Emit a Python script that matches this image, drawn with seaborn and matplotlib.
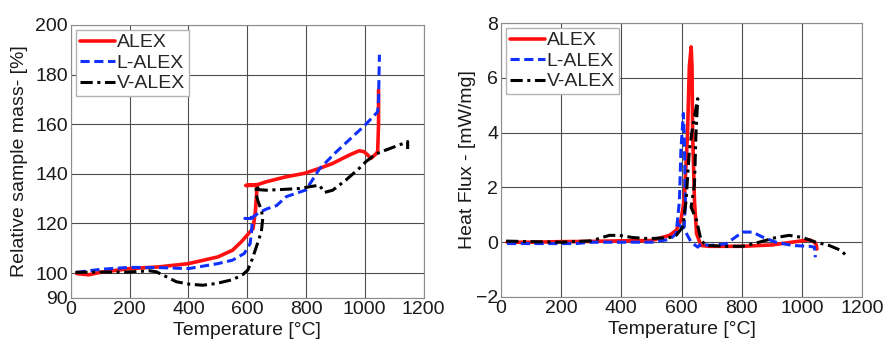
import numpy as np
import pandas as pd
import seaborn as sns
import matplotlib
matplotlib.use('Agg')
from matplotlib import pyplot as plt

# TG: relative sample mass [%] vs temperature [C]
alex_tg_t = [20, 60, 100, 200, 300, 400, 500, 550, 580, 600, 620, 628, 632, 633, 595, 636, 665, 732, 795, 846,
             891, 948, 981, 998, 1010, 1021, 1038, 1044, 1047, 1047]
alex_tg_m = [99.8, 99.3, 100.3, 101.8, 102.5, 103.8, 106.5, 109.2, 112.6, 115.3, 118, 125, 132, 135.4, 135.3, 135.7, 136.8,
             138.8, 140.2, 142.2, 144.2, 147.6, 149.3, 148.9, 147.6, 146.2, 148, 149, 160, 173.8]
lalex_tg_t = [20, 100, 200, 300, 400, 500, 550, 590, 610, 615, 618, 592, 618, 640, 665, 700, 733, 800, 846, 900,
              950, 1000, 1044, 1047, 1050]
lalex_tg_m = [100.3, 101.5, 102.3, 102.2, 101.8, 103.8, 105.2, 107.9, 111.9, 117, 122, 122, 122.5, 124.3, 125.8, 127.2,
              130.8, 133.5, 142, 148.5, 154, 159.5, 165, 170, 188]
valex_tg_t = [15, 98, 189, 268, 291, 325, 359, 404, 449, 495, 552, 586, 602, 614, 631, 648, 653, 648, 637, 631, 630,
              640, 665, 721, 778, 823, 846, 863, 891, 936, 981, 1004, 1038, 1072, 1117, 1146, 1146]
valex_tg_m = [100.3, 100.4, 100.4, 100.9, 100.5, 98.5, 96.5, 95.5, 95.1, 95.8, 97.4, 99.5, 101.2, 104.6, 110.5, 116.6,
              122, 125.5, 128.9, 131.5, 135.4, 133.6, 133.4, 133.7, 134.1, 135, 135.4, 132.5, 133.4, 137.5, 142.2, 144.9,
              148, 149.6, 151.6, 153, 150]

# DSC: heat flux [mW/mg] vs temperature [C]
alex_hf_t = [20, 100, 200, 300, 400, 500, 560, 582, 598, 609, 620, 626, 632, 635, 637, 643, 650, 665, 693, 800,
             900, 1000, 1025, 1042, 1048, 1050]
alex_hf_q = [0.0, 0.0, 0.02, 0.03, 0.05, 0.06, 0.25, 0.43, 0.8, 1.53, 3.96, 6.4, 7.13, 6.4, 3.96, 1.53, 0.31, -0.12,
             -0.15, -0.15, -0.1, 0.05, 0.09, 0.0, -0.1, -0.25]
lalex_hf_t = [20, 150, 250, 300, 400, 500, 560, 582, 593, 598, 606, 609, 613, 609, 587, 610, 632, 654, 665, 693,
              748, 803, 836, 869, 914, 969, 1025, 1042, 1045]
lalex_hf_q = [-0.05, -0.05, -0.05, 0.0, 0.0, 0.0, 0.1, 0.3, 1.5, 3.35, 4.7, 3.96, 1.5, 0.55, 0.68, 0.45, 0.0, -0.18,
              -0.06, -0.12, -0.06, 0.37, 0.37, 0.19, 0.0, -0.12, -0.15, -0.18, -0.55]
valex_hf_t = [17, 100, 200, 300, 360, 393, 438, 493, 560, 582, 604, 615, 626, 637, 654, 648, 643, 632, 650, 665,
              682, 748, 803, 858, 914, 958, 1003, 1046, 1091, 1130, 1147]
valex_hf_q = [0.04, 0.02, 0.0, 0.05, 0.25, 0.25, 0.17, 0.13, 0.17, 0.25, 0.55, 1.5, 3.35, 4.2, 5.24, 3.96, 2.1, 1.28,
              0.8, 0.07, -0.12, -0.15, -0.15, 0.0, 0.17, 0.25, 0.17, 0.0, -0.12, -0.3, -0.48]

labels = ['ALEX', 'L-ALEX', 'V-ALEX']
colors = ['#ff1010', '#1030ff', 'black']
styles = ['-', (0, (3, 1.5)), (0, (4, 1.5, 1, 1.5))]
widths = [2.6, 2.2, 2.2]

sns.set_theme(style='white')
plt.rcParams['font.family'] = ['Liberation Sans', 'DejaVu Sans']
fontsize = 14

fig = plt.figure(figsize=(8.86, 3.42), dpi=100)
ax1 = fig.add_axes([0.080, 0.129, 0.398, 0.798])
ax2 = fig.add_axes([0.5655, 0.1316, 0.4074, 0.801])

tg = [(alex_tg_t, alex_tg_m), (lalex_tg_t, lalex_tg_m), (valex_tg_t, valex_tg_m)]
hf = [(alex_hf_t, alex_hf_q), (lalex_hf_t, lalex_hf_q), (valex_hf_t, valex_hf_q)]

for ax, data in [(ax1, tg), (ax2, hf)]:
    for (t, v), lab, c, ls, lw in zip(data, labels, colors, styles, widths):
        df = pd.DataFrame({'T': t, 'v': v})
        sns.lineplot(data=df, x='T', y='v', sort=False, estimator=None, ax=ax,
                     color=c, linewidth=lw, label=lab)
        ax.lines[-1].set_linestyle(ls)
    ax.set_xlim(0, 1200)
    ax.set_xticks(range(0, 1201, 200))
    ax.grid(True, color='0.3', linewidth=0.8)
    for s in ax.spines.values():
        s.set_color('0.55')
        s.set_linewidth(0.8)
    ax.tick_params(labelsize=fontsize, direction='in', length=3, pad=2, colors='0.55', labelcolor='0.1')
    ax.set_xlabel('Temperature [°C]', fontsize=fontsize, color='0.1', labelpad=3)
    leg = ax.legend(loc='upper left', fontsize=fontsize, handlelength=1.8, handletextpad=0.1,
                    labelspacing=0.15, borderpad=0.2, borderaxespad=0.25, fancybox=False, framealpha=1)
    leg.get_frame().set_edgecolor('0.7')

ax1.set_ylim(90, 200)
ax1.set_yticks([90, 100, 120, 140, 160, 180, 200])
ax1.set_ylabel('Relative sample mass- [%]', fontsize=fontsize, color='0.1', labelpad=5)
ax2.set_ylim(-2, 8)
ax2.set_yticks(range(-2, 9, 2))
ax2.set_ylabel('Heat Flux - [mW/mg]', fontsize=fontsize, color='0.1', labelpad=0)

fig.savefig('out.png', dpi=100)
